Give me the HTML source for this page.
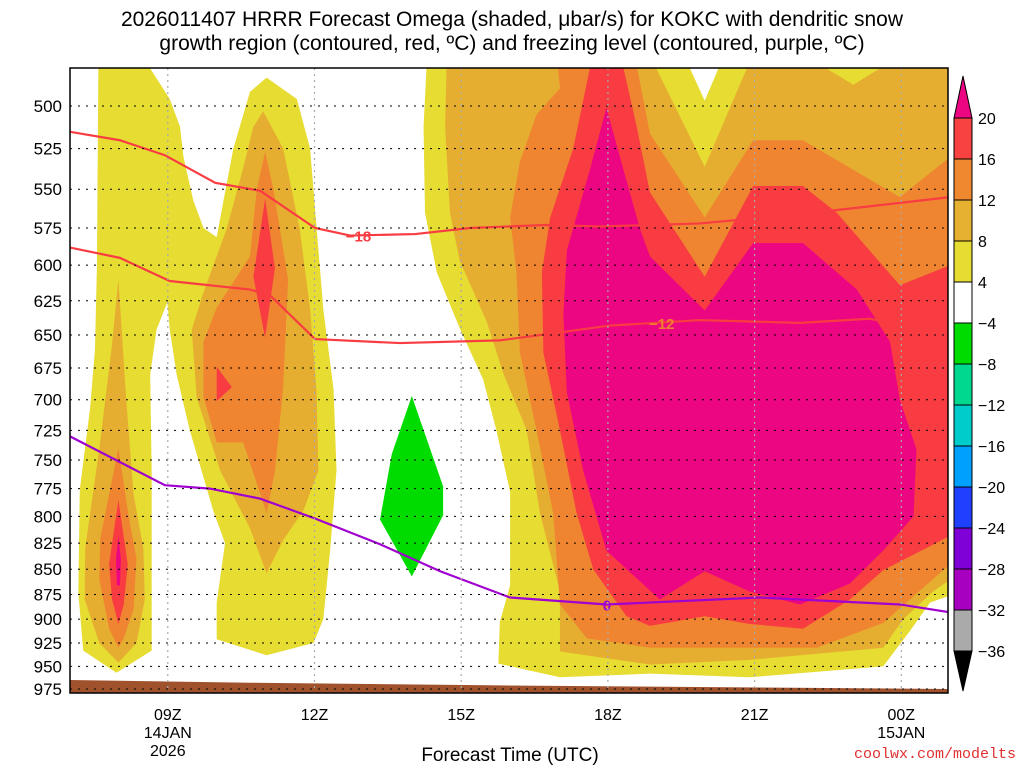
<!DOCTYPE html>
<html><head><meta charset="utf-8"><style>
body{margin:0;background:#fff;width:1024px;height:768px;overflow:hidden;font-family:"Liberation Sans",sans-serif}
svg{display:block}
</style></head><body>
<svg id="c" width="1024" height="768" xmlns="http://www.w3.org/2000/svg"></svg>
<script>
const pressureTicks=[500,525,550,575,600,625,650,675,700,725,750,775,800,825,850,875,900,925,950,975];
const timeTicks=[9,12,15,18,21,24];
const timeLabels=["09Z","12Z","15Z","18Z","21Z","00Z"];
const dateLabels={9:["14JAN","2026"],24:["15JAN"]};
const cbLevels=["20","16","12","8","4","\u22124","\u22128","\u221212","\u221216","\u221220","\u221224","\u221228","\u221232","\u221236"];
const cbColors=["#f84242","#f08830","#e6b030","#e6dc32","#ffffff","#00dc00","#00d890","#00cccc","#00a0ff","#2040ff","#8000d8","#a800c0","#aaaaaa"];
// shaded omega regions: [hour, pressure]
const yellowLeft=[[7.58,479],[7.55,602],[7.51,661],[7.41,707],[7.2,776],[7.17,873],[7.27,933],[7.95,957],[8.67,933],[8.67,759],[8.64,680],[8.77,646],[8.99,626],[9.04,646],[9.18,680],[9.45,725],[9.93,795],[10.17,825],[10.0,883],[10.0,921],[11.02,938],[11.98,925],[12.18,900],[12.32,832],[12.45,759],[12.39,692],[12.18,631],[11.91,525],[11.64,496],[11.02,484],[10.68,492],[10.34,525],[10.14,557],[10.0,581],[9.73,575],[9.52,557],[9.32,530],[9.25,512],[9.04,496],[8.64,479]];
const gold1=[[7.99,610],[8.15,700],[8.3,780],[8.5,830],[8.53,880],[8.36,925],[7.99,946],[7.6,925],[7.3,880],[7.31,830],[7.6,740],[7.85,660]];
const orange1=[[7.99,740],[8.2,800],[8.36,840],[8.3,890],[8.1,920],[7.99,930],[7.8,910],[7.6,860],[7.62,820],[7.8,780]];
const red1=[[7.99,785],[8.18,845],[8.1,885],[7.99,905],[7.86,880],[7.8,845]];
const mag1=[[7.99,818],[8.04,840],[8.02,866],[7.96,866],[7.94,840]];
const gold2=[[10.95,503],[11.36,525],[11.7,576],[11.91,631],[12.04,692],[12.08,759],[11.77,795],[11.36,822],[11.02,854],[10.68,811],[10.07,759],[9.59,698],[9.49,646],[9.73,619],[10.2,576],[10.54,537],[10.75,512]];
const orange2=[[10.99,527],[11.16,550],[11.46,610],[11.36,690],[11.19,760],[11.02,797],[10.54,735],[10.0,735],[9.73,698],[9.73,655],[10.0,630],[10.68,594],[10.82,550]];
const red2=[[10.99,556],[11.19,602],[10.99,652],[10.75,608]];
const red3=[[10.0,674],[10.31,690],[10.0,701]];
const yellowRight=[[14.29,479],[19.68,479],[19.98,497],[20.26,479],[25,479],[25,876],[24.59,883],[24.18,912],[23.63,950],[20.9,962],[18.86,958],[17.02,962],[15.76,947],[15.79,903],[16.0,866],[16.0,778],[15.72,725],[15.45,684],[14.97,645],[14.5,605],[14.26,565],[14.23,512]];
const goldRight=[[14.7,479],[18.99,479],[19.98,536],[20.84,479],[22.47,479],[23.02,488],[23.56,479],[25,479],[25,860],[24.65,872],[24.04,900],[23.63,930],[20.9,943],[18.86,948],[17.02,934],[17.02,872],[16.61,797],[16.34,725],[15.86,679],[15.52,640],[14.97,597],[14.77,565],[14.67,512]];
const orangeRight=[[16.98,479],[18.6,479],[18.86,516],[19.98,568],[20.97,520],[21.99,520],[23.97,555],[25,530],[25,845],[23.63,904],[22.27,930],[20.9,930],[18.86,930],[17.57,920],[17.02,885],[16.88,797],[16.54,725],[16.2,663],[16.13,605],[16.0,568],[16.2,533],[16.54,505],[17.02,490]];
const redRight=[[17.63,479],[18.32,479],[18.59,512],[18.86,552],[19.98,608],[20.97,548],[21.99,548],[22.68,565],[23.97,614],[25,600],[25,818],[23.63,851],[22.95,880],[21.99,910],[20.9,905],[19.98,897],[18.86,907],[18.38,897],[17.7,850],[17.36,797],[17.02,725],[16.68,663],[16.65,605],[16.82,568],[17.29,525]];
const magRight=[[17.97,501],[18.32,538],[18.66,576],[18.86,594],[19.98,632],[20.97,585],[21.99,585],[23.09,617],[23.77,655],[23.97,700],[24.31,741],[24.25,800],[23.63,832],[22.95,864],[21.93,885],[20.9,872],[19.98,852],[19.06,880],[17.97,832],[17.5,760],[17.16,694],[17.09,635],[17.16,590],[17.63,538]];
const greenNeg=[[13.99,697],[14.63,773],[14.63,799],[13.99,857],[13.34,803],[13.58,745]];
// contour lines
const iso18=[[7,515],[8.02,520],[8.94,529],[9.97,546],[10.89,551],[12.01,575],[12.73,580],[14.06,579],[15.18,575],[16.71,573],[17.84,574],[19.88,572],[21.93,566],[25,555]];
const iso12=[[7,588],[8.02,595],[9.04,611],[10.68,617],[11.09,621],[12.01,653],[13.75,656],[15.79,654],[16.82,649],[18.04,643],[19.88,639],[21.93,641],[23.36,638],[23.77,641]];
const frz0=[[7,730],[8.94,772],[9.86,775],[10.89,784],[12.01,802],[13.34,826],[14.57,852],[16.0,878],[17.98,885],[21.11,878],[23.97,885],[25,893]];
const ground=[[7,965],[10.7,968],[15.8,971],[25,975]];

const X0=70,X1=948,Y0=68,Y1=693;
const xs=h=>X0+(h-7)*48.9;
const ys=p=>106+873*Math.log(p/500);
const svg=document.getElementById('c');
const NS='http://www.w3.org/2000/svg';
function mk(tag,attrs,parent){const e=document.createElementNS(NS,tag);for(const k in attrs)e.setAttribute(k,attrs[k]);(parent||svg).appendChild(e);return e;}
const clip=mk('clipPath',{id:'pc'});mk('rect',{x:X0,y:Y0,width:X1-X0,height:Y1-Y0},clip);
const g=mk('g',{'clip-path':'url(#pc)'});
function poly(arr,fill,name){const e=mk('polygon',{points:arr.map(d=>xs(d[0])+','+ys(d[1])).join(' '),fill:fill},g);

}
const Y='#e6dc32',G='#e6ae30',O='#ef8530',R='#f83c42',M='#ec0682';
poly(yellowLeft,Y,'omega-4-left');poly(yellowRight,Y,'omega-4-right');
poly(gold1,G,'omega-8-a');poly(gold2,G,'omega-8-b');poly(goldRight,G,'omega-8-right');
poly(orange1,O,'omega-12-a');poly(orange2,O,'omega-12-b');poly(orangeRight,O,'omega-12-right');
poly(red1,R,'omega-16-a');poly(red2,R,'omega-16-b');poly(red3,R,'omega-16-c');poly(redRight,R,'omega-16-right');
poly(mag1,M,'omega-20-a');poly(magRight,M,'omega-20-right');
poly(greenNeg,'#00dc00','omega-neg4');
// grid
pressureTicks.forEach(p=>{const l=mk('line',{x1:X0,x2:X1,y1:ys(p),y2:ys(p),stroke:'#000','stroke-width':1,'stroke-dasharray':'2,6'});

});
timeTicks.forEach(h=>{const l=mk('line',{x1:xs(h),x2:xs(h),y1:Y0,y2:Y1,stroke:'#aaa','stroke-width':1.2,'stroke-dasharray':'2,4'});

});
// ground
const gp=ground.map(d=>xs(d[0])+','+ys(d[1])).join(' ')+' '+X1+','+Y1+' '+X0+','+Y1;
const gr=mk('polygon',{points:gp,fill:'#a0522d'},g);


function line(arr,col,name){const e=mk('polyline',{points:arr.map(d=>xs(d[0])+','+ys(d[1])).join(' '),fill:'none',stroke:col,'stroke-width':2.2},g);

}
line(iso18,'#f83c42','contour-minus18');line(iso12,'#f83c42','contour-minus12');line(frz0,'#a000d0','freezing-level-0');
function lab(h,p,t,col,name){
const e=mk('text',{x:xs(h),y:ys(p)+6,fill:col,'font-size':15,'font-weight':'bold','text-anchor':'middle'},g);e.textContent=t;

}
lab(12.9,580,'\u221218','#f83c42','label-minus18');lab(19.1,641,'\u221212','#f08030','label-minus12');lab(17.98,885,'0','#a000d0','label-0');
mk('rect',{x:X0,y:Y0,width:X1-X0,height:Y1-Y0,fill:'none',stroke:'#000','stroke-width':1.5});
// axes labels
pressureTicks.forEach(p=>{const t=mk('text',{x:62,y:ys(p)+6,'font-size':17,'text-anchor':'end',fill:'#000'});t.textContent=p;

});
timeTicks.forEach((h,i)=>{const t=mk('text',{x:xs(h),y:720,'font-size':16,'text-anchor':'middle'});t.textContent=timeLabels[i];


(dateLabels[h]||[]).forEach((s,j)=>{const d=mk('text',{x:xs(h),y:738+j*18,'font-size':16,'text-anchor':'middle'});d.textContent=s;

});});
// colorbar
const cbx=954,cbw=18,cby=118,cbh=41;
const tri1=mk('polygon',{points:`${cbx},${cby} ${cbx+cbw},${cby} ${cbx+cbw/2},76`,fill:M,stroke:'#000'});


cbColors.forEach((c,i)=>{const r=mk('rect',{x:cbx,y:cby+i*cbh,width:cbw,height:cbh,fill:c,stroke:'#000','stroke-width':1});

});
const yb=cby+cbColors.length*cbh;
const tri2=mk('polygon',{points:`${cbx},${yb} ${cbx+cbw},${yb} ${cbx+cbw/2},691`,fill:'#000',stroke:'#000'});


cbLevels.forEach((s,i)=>{const t=mk('text',{x:978,y:cby+i*cbh+6,'font-size':16});t.textContent=s;

});
</script>
<div style="position:absolute;left:0;top:8px;width:1024px;text-align:center;font-size:21px;line-height:24px;color:#000">2026011407 HRRR Forecast Omega (shaded, μbar/s) for KOKC with dendritic snow<br>growth region (contoured, red, ºC) and freezing level (contoured, purple, ºC)</div>
<div style="position:absolute;left:340px;top:745px;width:340px;text-align:center;font-size:19px;color:#000">Forecast Time (UTC)</div>
<div style="position:absolute;right:8px;top:746px;font-size:15px;color:#e03030;font-family:'Liberation Mono',monospace">coolwx.com/modelts</div>
</body></html>
